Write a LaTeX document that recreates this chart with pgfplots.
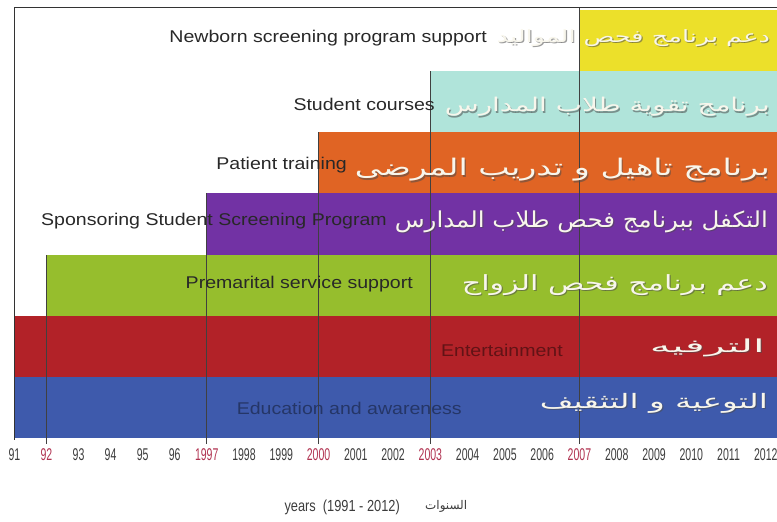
\documentclass[border=0pt]{standalone}
\usepackage{pgfplots}
\pgfplotsset{compat=1.18}
\usepackage{fontspec}
\usepackage{graphicx}
\setmainfont{Liberation Sans}
\newfontfamily\arabicfont[Script=Arabic]{DejaVu Sans}
\newfontfamily\narrowfont[FakeStretch=0.62]{Liberation Sans}
\newfontfamily\xlfont[FakeStretch=0.8]{Liberation Sans}
\newfontfamily\widefont[FakeStretch=1.15]{Liberation Sans}
\TeXXeTstate=1
\definecolor{cyellow}{RGB}{236,224,42}
\definecolor{ccyan}{RGB}{176,228,218}
\definecolor{corange}{RGB}{224,100,36}
\definecolor{cpurple}{RGB}{114,50,164}
\definecolor{cgreen}{RGB}{150,190,45}
\definecolor{cred}{RGB}{178,34,40}
\definecolor{cblue}{RGB}{62,90,172}
\definecolor{tickgray}{RGB}{60,60,60}
\definecolor{tickred}{RGB}{176,50,80}
\definecolor{arwhite}{RGB}{248,246,236}
\definecolor{engdark}{RGB}{40,40,40}
% x, y, width, height, text (already wrapped in \beginR ... \endR)
\newcommand{\arlab}[5]{%
  \node[anchor=east, inner sep=0pt, text=black!70, opacity=0.55] at ({#1pt+1.2pt},{-#2pt-1.2pt}) {\resizebox*{#3pt}{#4pt}{\arabicfont #5}};
  \node[anchor=east, inner sep=0pt, text=arwhite] at ({#1pt},{-#2pt}) {\resizebox*{#3pt}{#4pt}{\arabicfont #5}};
}
\newcommand{\enlab}[4]{%
  \node[anchor=east, inner sep=0pt, text=#3] at ({#1pt},{-#2pt}) {\widefont\fontsize{17}{17}\selectfont #4};
}
\begin{document}
\begin{tikzpicture}
\path[use as bounding box] (0,0) rectangle (777pt,-522pt);
\begin{axis}[
  at={(14.4pt,-438pt)}, anchor=south west,
  scale only axis, width=762.6pt, height=431pt,
  xmin=1991, xmax=2012.3, ymin=0, ymax=7.05,
  x coord trafo/.code={\pgfmathparse{#1<1997 ? 1997-(1997-#1)*0.86 : #1}},
  x coord inv trafo/.code={\pgfmathparse{#1<1997 ? 1997-(1997-#1)/0.86 : #1}},
  axis line style={draw=none},
  ytick=\empty,
  xtick={1991,1992,1993,1994,1995,1996,1997,1998,1999,2000,2001,2002,2003,2004,2005,2006,2007,2008,2009,2010,2011,2012},
  xticklabels={91,\textcolor{tickred}{92},93,94,95,96,\textcolor{tickred}{1997},1998,1999,\textcolor{tickred}{2000},2001,2002,\textcolor{tickred}{2003},2004,2005,2006,\textcolor{tickred}{2007},2008,2009,2010,2011,2012},
  major tick length=0pt,
  xticklabel style={font=\narrowfont\fontsize{17}{17}\selectfont, text=tickgray, anchor=center, yshift=-17pt},
  clip=false,
]
% bars: start year to end of axis
\addplot[fill=cblue, draw=none] coordinates {(1991,0) (2012.3,0) (2012.3,1) (1991,1)};
\addplot[fill=cred, draw=none] coordinates {(1991,1) (2012.3,1) (2012.3,2) (1991,2)};
\addplot[fill=cgreen, draw=none] coordinates {(1992,2) (2012.3,2) (2012.3,3) (1992,3)};
\addplot[fill=cpurple, draw=none] coordinates {(1997,3) (2012.3,3) (2012.3,4) (1997,4)};
\addplot[fill=corange, draw=none] coordinates {(2000,4) (2012.3,4) (2012.3,5) (2000,5)};
\addplot[fill=ccyan, draw=none] coordinates {(2003,5) (2012.3,5) (2012.3,6) (2003,6)};
\addplot[fill=cyellow, draw=none] coordinates {(2007,6) (2012.3,6) (2012.3,7) (2007,7)};
% start lines
\addplot[black!75, line width=0.8pt] coordinates {(1992,-0.09) (1992,3)};
\addplot[black!75, line width=0.8pt] coordinates {(1997,-0.09) (1997,4)};
\addplot[black!75, line width=0.8pt] coordinates {(2000,-0.09) (2000,5)};
\addplot[black!75, line width=0.8pt] coordinates {(2003,-0.09) (2003,6)};
\addplot[black!75, line width=0.8pt] coordinates {(2007,-0.09) (2007,7.05)};
% frame
\addplot[black!80, line width=0.9pt] coordinates {(1991,-0.03) (1991,7.05) (2012.3,7.05)};
\end{axis}
% English labels
\enlab{487}{38}{engdark}{Newborn screening program support}
\enlab{435}{104}{engdark}{Student courses}
\enlab{347}{165}{engdark}{Patient training}
\enlab{387}{221}{engdark}{Sponsoring Student Screening Program}
\enlab{413}{284}{engdark}{Premarital service support}
\enlab{563}{350}{black!45!cred}{Entertainment}
\enlab{462}{408}{black!40!cblue}{Education and awareness}
% Arabic labels
\arlab{770}{38}{273}{17}{\beginR دعم برنامج فحص المواليد\endR}
\arlab{770}{107}{325}{19}{\beginR برنامج تقوية طلاب المدارس\endR}
\arlab{770}{170}{415}{23}{\beginR برنامج تاهيل و تدريب المرضى\endR}
\arlab{768}{222}{373}{22}{\beginR التكفل ببرنامج فحص طلاب المدارس\endR}
\arlab{768}{285}{306}{21}{\beginR دعم برنامج فحص الزواج\endR}
\arlab{765}{348}{115}{18}{\beginR الترفيه\endR}
\arlab{768}{403}{228}{20}{\beginR التوعية و التثقيف\endR}
% axis title
\node[anchor=east, inner sep=0pt, text=tickgray] at (400pt,-507pt) {\xlfont\fontsize{16}{16}\selectfont years\ \ (1991 - 2012)};
\node[anchor=west, inner sep=0pt, text=tickgray] at (425pt,-506pt) {\resizebox{42pt}{!}{\arabicfont\beginR السنوات\endR}};
\end{tikzpicture}
\end{document}
